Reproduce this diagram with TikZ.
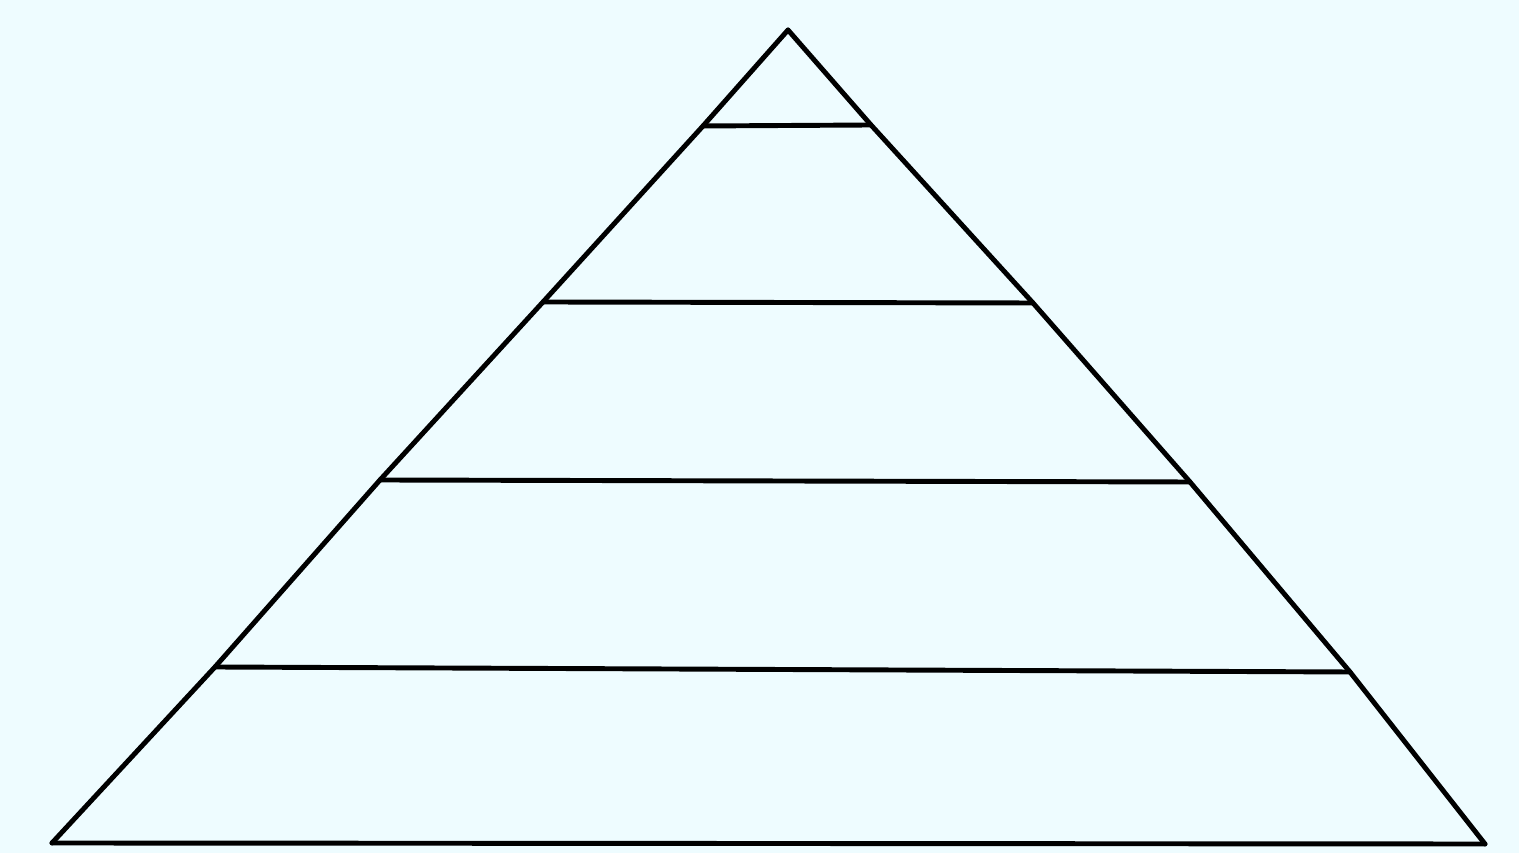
\documentclass[tikz,border=0pt]{standalone}
\usepackage{tikz}
\definecolor{paper}{RGB}{238,252,255}

\begin{document}
\begin{tikzpicture}[x = 0.2mm, y = 0.2mm, line width = 2.8pt, line join = round, line cap = round]
%
	\fill[paper] (0,0) rectangle (1519,853);
	\useasboundingbox (0,0) rectangle (1519,853);
%
	\coordinate (apex) at (788,823);
	\coordinate (l1) at (703,727);  \coordinate (r1) at (871,728);
	\coordinate (l2) at (543,551);  \coordinate (r2) at (1033,550);
	\coordinate (l3) at (380,373);  \coordinate (r3) at (1190,371);
	\coordinate (l4) at (215,186);  \coordinate (r4) at (1350,181);
	\coordinate (l5) at (52,10);    \coordinate (r5) at (1485,9);
%
	\draw (l5) -- (l4) -- (l3) -- (l2) -- (l1) -- (apex);
	\draw (apex) -- (r1) -- (r2) -- (r3) -- (r4) -- (r5);
	\draw (l1) -- (r1);
	\draw (l2) -- (r2);
	\draw (l3) -- (r3);
	\draw (l4) -- (r4);
	\draw (l5) -- (r5);
%
\end{tikzpicture}
\end{document}
